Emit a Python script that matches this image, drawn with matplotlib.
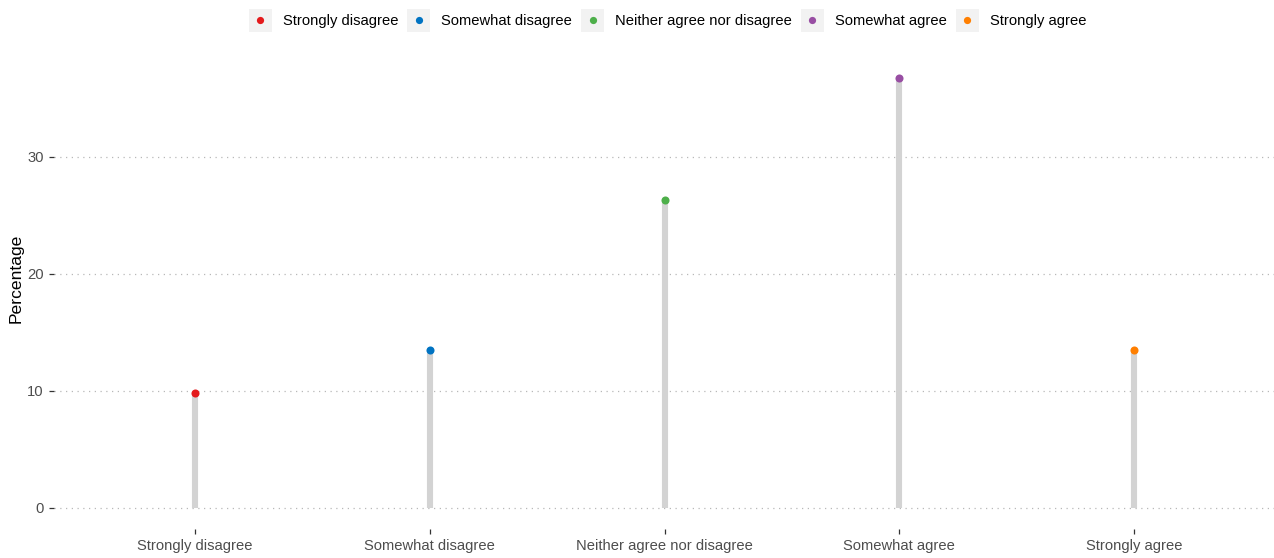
import matplotlib
matplotlib.use("Agg")
import matplotlib.pyplot as plt
from matplotlib.patches import Rectangle
from matplotlib.lines import Line2D

plt.rcParams['font.family'] = ['Liberation Sans', 'DejaVu Sans']

categories = ["Strongly disagree", "Somewhat disagree", "Neither agree nor disagree",
              "Somewhat agree", "Strongly agree"]
percentages = [9.8, 13.5, 26.3, 36.8, 13.5]
colors = ["#E41A1C", "#0073C2", "#4DAF4A", "#984EA3", "#FF7F00"]
y_ticks = [0, 10, 20, 30]

W, H = 1274, 558
fig = plt.figure(figsize=(W / 100, H / 100), dpi=100)
left, right, top, bottom = 54, 1275, 56, 529
ax = fig.add_axes([left / W, (H - bottom) / H, (right - left) / W, (bottom - top) / H])

x = list(range(1, len(categories) + 1))
ax.vlines(x, 0, percentages, color="#D3D3D3", linewidth=4.4, zorder=2)
for xi, v, c in zip(x, percentages, colors):
    ax.plot([xi], [v], marker="o", markersize=5.8, color=c, markeredgewidth=0, zorder=3)

ymax = max(percentages)
pad = ymax * 0.05
ax.set_ylim(-pad, ymax + pad)
ax.set_xlim(0.4, len(categories) + 0.6)

ax.set_xticks(x)
ax.set_xticklabels(categories)
ax.set_yticks(y_ticks)
ax.tick_params(axis="both", colors="#333333", labelcolor="#4D4D4D", labelsize=10.6,
               length=3.5, width=0.9)
ax.tick_params(axis="x", pad=4)
ax.tick_params(axis="y", pad=4)
for s in ax.spines.values():
    s.set_visible(False)

ax.grid(axis="y", color="#B8B8B8", linewidth=0.9, linestyle=(0, (1, 3.6)))
ax.grid(axis="x", visible=False)
ax.set_axisbelow(True)

fig.text(16 / W, 1 - 278 / H, "Percentage", rotation=90, ha="center", va="center",
         fontsize=12.6, color="black")

# Legend along the top: grey key boxes with a coloured dot, then the label
renderer = fig.canvas.get_renderer()
key = 23
gap_text = 11
gap_item = 9
fs_leg = 10.6
widths = []
for cat in categories:
    t = fig.text(0, 0, cat, fontsize=fs_leg)
    bb = t.get_window_extent(renderer)
    widths.append(bb.width)
    t.remove()
total = sum(key + gap_text + w for w in widths) + gap_item * (len(categories) - 1)
cx = 667.5
xpos = cx - total / 2
ycen = 20
for cat, c, w in zip(categories, colors, widths):
    fig.patches.append(Rectangle((xpos / W, 1 - (ycen + key / 2) / H), key / W, key / H,
                                 transform=fig.transFigure, facecolor="#F2F2F2",
                                 edgecolor="none"))
    fig.lines.append(Line2D([(xpos + key / 2) / W], [1 - ycen / H], marker="o",
                            markersize=5.2, color=c, markeredgewidth=0,
                            transform=fig.transFigure))
    fig.text((xpos + key + gap_text) / W, 1 - (ycen + 1) / H, cat, fontsize=fs_leg,
             ha="left", va="center", color="black")
    xpos += key + gap_text + w + gap_item

fig.savefig("out.png", dpi=100, facecolor="white")
